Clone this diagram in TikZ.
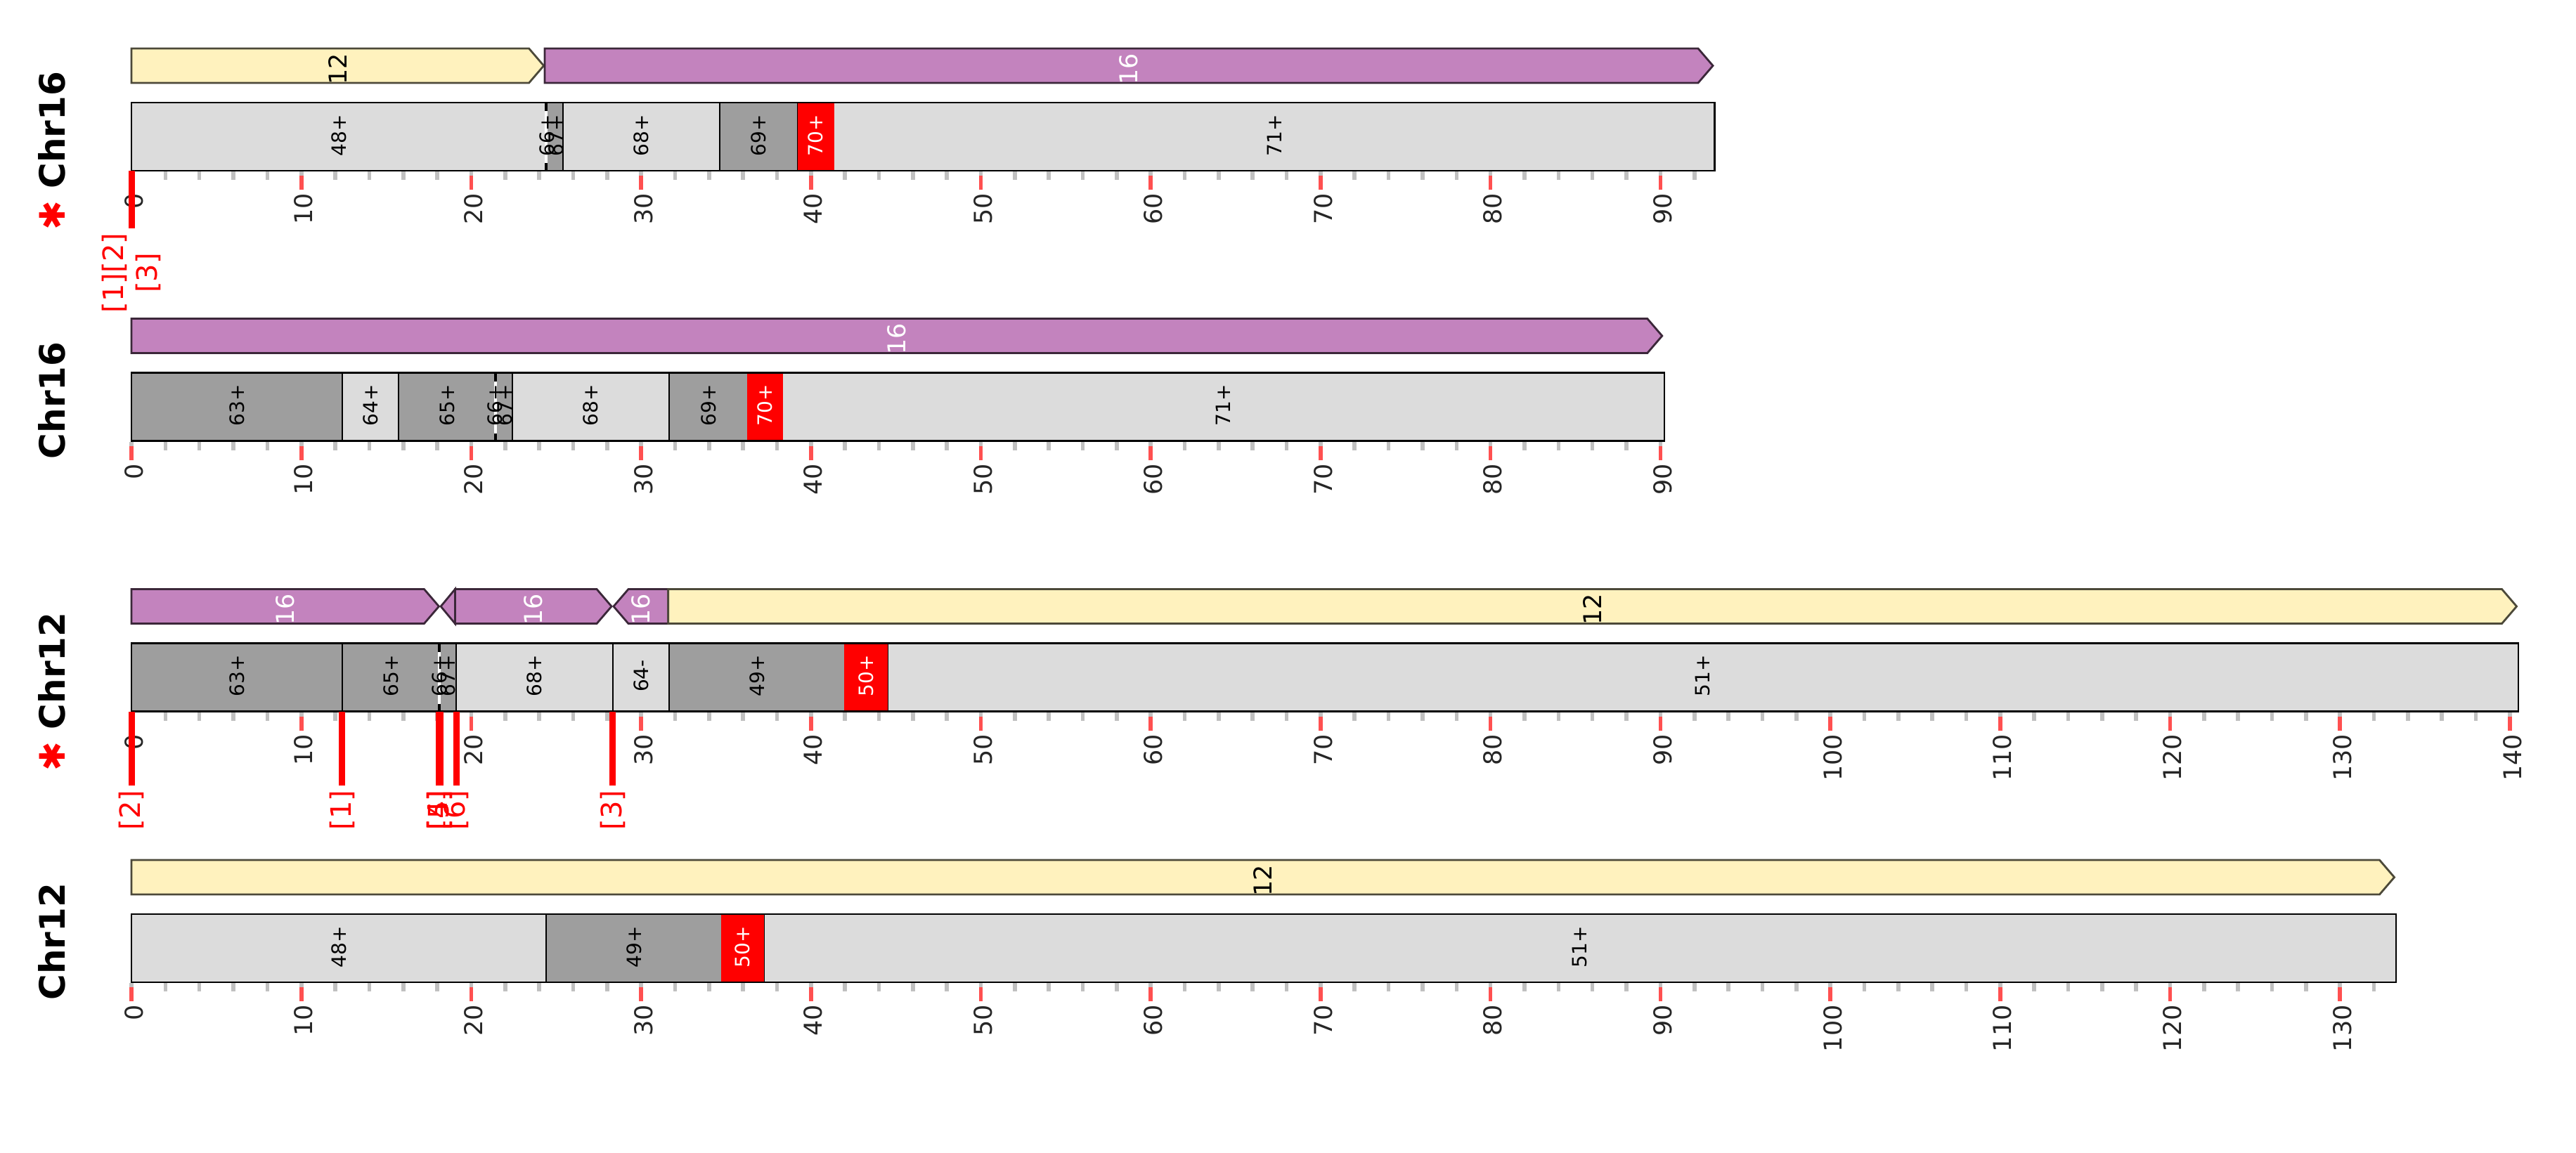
\documentclass[tikz,border=0pt]{standalone}
\usepackage{fontspec}
\setmainfont{DejaVu Sans}
\newfontfamily\starfont{DejaVu Sans}

\definecolor{trackyellow}{RGB}{255,242,190}
\definecolor{trackpurple}{RGB}{195,131,190}
\definecolor{seglight}{RGB}{220,220,220}
\definecolor{segdark}{RGB}{158,158,158}
\definecolor{minorgrey}{RGB}{192,192,192}
\definecolor{majorred}{RGB}{255,80,80}

\tikzset{
  track/.style={line width=0.7pt, line join=miter},
  seg/.style={draw=black, line width=0.5pt},
  outline/.style={draw=black, line width=0.65pt},
  minor/.style={minorgrey, line width=1.4pt},
  major/.style={majorred, line width=1.4pt},
  bpline/.style={red, line width=2.25pt, shorten >=1.5pt},
  segtext/.style={rotate=90, inner sep=0pt, font=\fontsize{7}{8}\selectfont},
  tracktext/.style={rotate=90, inner sep=0pt, font=\fontsize{8.75}{10}\selectfont},
  ticktext/.style={rotate=90, anchor=east, inner sep=0pt, text=black!85, font=\fontsize{8.75}{10}\selectfont},
  bptext/.style={rotate=90, anchor=east, inner sep=0pt, text=red, align=center, font=\fontsize{10}{12}\selectfont},
  chrtext/.style={rotate=90, anchor=base, inner sep=0pt, font=\fontsize{12.5}{15}\selectfont\bfseries},
}

% forward block: start, tip, colour
\newcommand{\trackfwd}[3]{%
  \filldraw[track, fill=#3, draw=#3!30!black] (#1,69) -- ({max(#1,#2-0.87)},69) -- (#2,93.5)
    -- ({max(#1,#2-0.87)},118) -- (#1,118) -- cycle;}
% reverse block: tip, end, colour
\newcommand{\trackrev}[3]{%
  \filldraw[track, fill=#3, draw=#3!30!black] (#2,69) -- ({min(#2,#1+0.87)},69) -- (#1,93.5)
    -- ({min(#2,#1+0.87)},118) -- (#2,118) -- cycle;}
% zero length block
\newcommand{\gapmark}[1]{%
  \draw[white, line width=1.1pt] (#1,146) -- (#1,243);
  \draw[black, line width=1.1pt, dash pattern=on 3pt off 18.5pt] (#1,146) -- (#1,243);}
% ruler: name, last minor tick, last major tick
\newcommand{\rulerticks}[3]{%
  \foreach \x in {0,2,...,#2} \draw[minor] (\x,244) -- (\x,256);
  \foreach \x in {0,10,...,#3} {
    \draw[major] (\x,250) -- (\x,270);
    \node[ticktext] (#1\x) at ({\x+0.14},274.5) {\x};
  }}

\begin{document}
\begin{tikzpicture}[x=6.0425pt, y=-0.25pt]
  \useasboundingbox (-7.737,0) rectangle (143.895,1640);

  %chr16 with breakpoints
  \begin{scope}
    %tracks
    \trackfwd{0}{24.27}{trackyellow}
    \trackfwd{24.33}{93.09}{trackpurple}
    \node[tracktext] (p1t1) at (12.14,98) {12};
    \node[tracktext, text=white] (p1t2) at (58.71,98) {16};
    %blocks
    \foreach \a/\b/\c in {0/24.41/seglight, 24.41/25.40/segdark, 25.40/34.61/seglight,
        34.61/39.24/segdark, 41.33/93.2/seglight}
      \filldraw[seg, fill=\c] (\a,146) rectangle (\b,243);
    \fill[red] (39.21,146) rectangle (41.36,243);
    \gapmark{24.41}
    \draw[outline] (0,146) rectangle (93.2,243);
    \foreach \x/\t [count=\i] in {12.2/48+, 24.45/66+, 25.0/67+, 30.0/68+, 36.93/69+, 67.27/71+}
      \node[segtext] (p1s\i) at (\x,192.5) {\t};
    \node[segtext, text=white] (p1s7) at (40.28,192.5) {70+};
    %ruler
    \rulerticks{p1x}{92}{90}
    %breakpoints
    \coordinate (p1b1) at (0,243);
    \node[bptext] (p1l1) at (0,331) {[1][2]\\{[3]}};
    \draw[bpline] (p1b1) -- (p1l1.east);
    %name
    \node[chrtext] (p1n) at (-3.93,215) {{\color{red}\starfont\mdseries ✱} Chr16};
  \end{scope}

  %chr16
  \begin{scope}[shift={(0,384.5)}]
    \trackfwd{0}{90.1}{trackpurple}
    \node[tracktext, text=white] (p2t1) at (45.05,98) {16};
    \foreach \a/\b/\c in {0/12.40/segdark, 12.40/15.72/seglight, 15.72/21.43/segdark,
        21.43/22.43/segdark, 22.43/31.64/seglight, 31.64/36.27/segdark, 38.33/90.23/seglight}
      \filldraw[seg, fill=\c] (\a,146) rectangle (\b,243);
    \fill[red] (36.24,146) rectangle (38.36,243);
    \gapmark{21.43}
    \draw[outline] (0,146) rectangle (90.23,243);
    \foreach \x/\t [count=\i] in {6.2/63+, 14.06/64+, 18.58/65+, 21.42/66+, 21.97/67+,
        27.04/68+, 33.96/69+, 64.28/71+}
      \node[segtext] (p2s\i) at (\x,192.5) {\t};
    \node[segtext, text=white] (p2s9) at (37.3,192.5) {70+};
    \rulerticks{p2x}{90}{90}
    \node[chrtext] (p2n) at (-3.93,215) {\phantom{\starfont\mdseries ✱} Chr16};
  \end{scope}

  %chr12 with breakpoints
  \begin{scope}[shift={(0,769.5)}]
    %tracks
    \trackfwd{0}{18.10}{trackpurple}
    \trackrev{18.21}{19.05}{trackpurple}
    \trackfwd{19.05}{28.26}{trackpurple}
    \trackrev{28.38}{31.6}{trackpurple}
    \trackfwd{31.6}{140.4}{trackyellow}
    \node[tracktext, text=white] (p3t1) at (9.05,98) {16};
    \node[tracktext, text=white] (p3t2) at (23.66,98) {16};
    \node[tracktext, text=white] (p3t3) at (29.99,98) {16};
    \node[tracktext] (p3t4) at (86.0,98) {12};
    %blocks
    \foreach \a/\b/\c in {0/12.41/segdark, 12.41/18.12/segdark, 18.12/19.13/segdark,
        19.13/28.33/seglight, 28.33/31.65/seglight, 31.65/41.99/segdark, 44.5/140.5/seglight}
      \filldraw[seg, fill=\c] (\a,146) rectangle (\b,243);
    \fill[red] (41.96,146) rectangle (44.53,243);
    \gapmark{18.12}
    \draw[outline] (0,146) rectangle (140.5,243);
    \foreach \x/\t [count=\i] in {6.2/63+, 15.27/65+, 18.12/66+, 18.65/67+, 23.73/68+,
        29.99/64-, 36.82/49+, 92.5/51+}
      \node[segtext] (p3s\i) at (\x,192.5) {\t};
    \node[segtext, text=white] (p3s9) at (43.25,192.5) {50+};
    %ruler
    \rulerticks{p3x}{140}{140}
    %breakpoints
    \foreach \x/\t [count=\i] in {0/2, 12.41/1, 18.10/4, 18.17/5, 19.13/6, 28.33/3} {
      \coordinate (p3b\i) at (\x,243);
      \node[bptext] (p3l\i) at (\x,354.5) {[\t]};
      \draw[bpline] (p3b\i) -- (p3l\i.east);
    }
    %name
    \node[chrtext] (p3n) at (-3.93,215) {{\color{red}\starfont\mdseries ✱} Chr12};
  \end{scope}

  %chr12
  \begin{scope}[shift={(0,1155)}]
    \trackfwd{0}{133.2}{trackyellow}
    \node[tracktext] (p4t1) at (66.6,98) {12};
    \foreach \a/\b/\c in {0/24.4/seglight, 24.4/34.75/segdark, 37.22/133.3/seglight}
      \filldraw[seg, fill=\c] (\a,146) rectangle (\b,243);
    \fill[red] (34.72,146) rectangle (37.25,243);
    \draw[outline] (0,146) rectangle (133.3,243);
    \foreach \x/\t [count=\i] in {12.2/48+, 29.58/49+, 85.26/51+}
      \node[segtext] (p4s\i) at (\x,192.5) {\t};
    \node[segtext, text=white] (p4s4) at (35.98,192.5) {50+};
    \rulerticks{p4x}{132}{130}
    \node[chrtext] (p4n) at (-3.93,215) {\phantom{\starfont\mdseries ✱} Chr12};
  \end{scope}
\end{tikzpicture}
\end{document}
